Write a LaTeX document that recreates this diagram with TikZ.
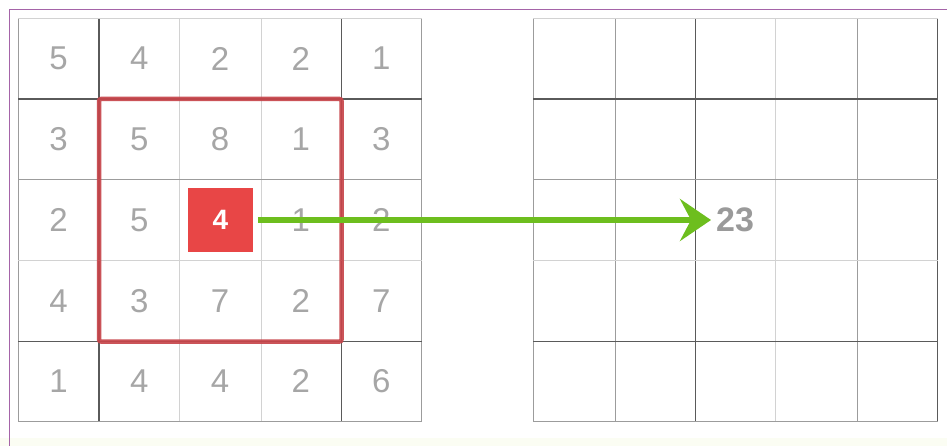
\documentclass[tikz,border=0pt]{standalone}
\usepackage{fontspec}
\setmainfont{Liberation Sans}
\usetikzlibrary{arrows.meta}
\definecolor{gdark}{HTML}{5A5A5A}
\definecolor{gmidc}{HTML}{9C9C9C}
\definecolor{glightc}{HTML}{D2D2D2}
\definecolor{numgray}{HTML}{A6A6A6}
\definecolor{resgray}{HTML}{9A9A9A}
\definecolor{framered}{HTML}{C7454A}
\definecolor{boxred}{HTML}{E84646}
\definecolor{arrowgreen}{HTML}{6DBE1E}
\definecolor{borderpurple}{HTML}{A564A8}
\definecolor{bottomtint}{HTML}{FBFDF3}
\begin{document}
\begin{tikzpicture}[x=1pt,y=-1pt,
  gdk/.style={draw=gdark,line width=1.2pt},
  gmd/.style={draw=gmidc,line width=1.1pt},
  glt/.style={draw=glightc,line width=1pt},
  cellnum/.style={inner sep=0pt,text=numgray,font=\fontsize{33}{33}\selectfont},
  winframe/.style={draw=framered,line width=4.5pt,rounded corners=2pt,opacity=0.92},
  curcell/.style={fill=boxred,text=white,inner sep=0pt,minimum width=65pt,minimum height=64pt,font=\bfseries\fontsize{28}{28}\selectfont},
  resnum/.style={inner sep=0pt,text=resgray,font=\bfseries\fontsize{34}{34}\selectfont},
  garrow/.style={draw=arrowgreen,line width=6pt,-{Stealth[length=31pt,width=42pt,inset=11pt]}}
]
\useasboundingbox (0,0) rectangle (947,446);
\fill[white] (0,0) rectangle (947,446);
\fill[bottomtint] (0,438) rectangle (947,446);
\draw[draw=borderpurple,line width=1.2pt] (9.3,446) -- (9.3,9.3) -- (947,9.3);

% left grid
\foreach \x/\s in {18.3/gmd,99/gdk,179.5/glt,261/glt,341.5/gdk,421.7/gmd}
  \draw[\s] (\x,18.3) -- (\x,421.7);
\foreach \y/\s in {18.3/glt,99/gdk,179.5/gmd,261/glt,341.5/gdk,421.7/gmd}
  \draw[\s] (18.3,\y) -- (421.7,\y);

% right grid
\foreach \x/\s in {533.3/gmd,615.7/gmd,695.7/gdk,775.7/glt,857.7/gmd,937.7/gdk}
  \draw[\s] (\x,18.3) -- (\x,421.7);
\foreach \y/\s in {18.3/glt,99/gdk,179.5/gmd,261/glt,341.5/gdk,421.7/gmd}
  \draw[\s] (533.3,\y) -- (937.7,\y);

% numbers
\foreach \row/\r in {{5,4,2,2,1}/0,{3,5,8,1,3}/1,{4,3,7,2,7}/3,{1,4,4,2,6}/4}{
  \foreach \v [count=\c from 0] in \row {
    \node[cellnum] (n\r\c) at ({18.3+80.68*(\c+0.5)},{18.3+80.68*(\r+0.5)}) {\v};
  }
}
\node[cellnum] (n20) at ({18.3+80.68*0.5},220) {2};
\node[cellnum] (n21) at ({18.3+80.68*1.5},220) {5};
\node[cellnum] (n23) at ({18.3+80.68*3.5},220) {1};
\node[cellnum] (n24) at ({18.3+80.68*4.5},220) {2};

% window frame
\draw[winframe] (99,99) rectangle (341.5,341.5);

% current cell
\node[curcell] (cur) at (220.5,220) {4};

% result
\node[resnum,anchor=west] (res) at (716,220) {23};

% arrow
\draw[garrow,shorten <=5pt,shorten >=5pt] (cur) -- (res);
\end{tikzpicture}
\end{document}
